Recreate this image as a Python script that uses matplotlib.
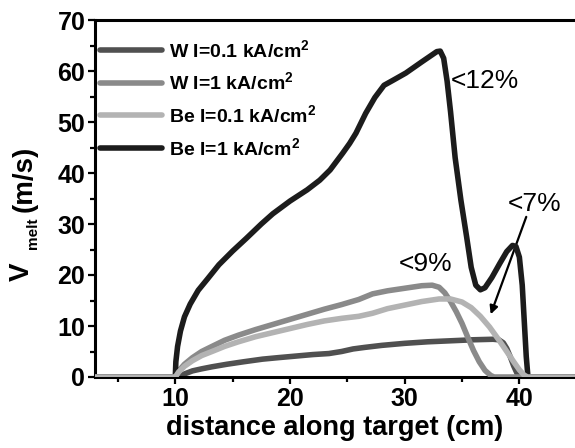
import matplotlib
matplotlib.use("Agg")
import matplotlib.pyplot as plt
from matplotlib.ticker import MultipleLocator

plt.rcParams['font.family'] = ['Liberation Sans', 'DejaVu Sans']
plt.rcParams['mathtext.fontset'] = 'custom'
plt.rcParams['mathtext.rm'] = 'Liberation Sans:bold'
plt.rcParams['mathtext.it'] = 'Liberation Sans:bold'
plt.rcParams['mathtext.bf'] = 'Liberation Sans:bold'

# ---- data ----
labels = ['W I=0.1 kA/cm$^{2}$', 'W I=1 kA/cm$^{2}$',
          'Be I=0.1 kA/cm$^{2}$', 'Be I=1 kA/cm$^{2}$']
colors = ['#505050', '#8a8a8a', '#b3b3b3', '#1c1c1c']

w01_x = [3, 10.3, 10.8, 11.5, 12.3, 13.2, 14.5, 16, 17.6, 19, 20.5, 22, 23.4, 24.5, 25.5, 26.5,
         28, 30, 32, 34, 36, 37.7, 38.2, 38.6, 38.9, 39.2, 39.5, 39.8, 40, 45]
w01_y = [0, 0, 0.6, 1.2, 1.6, 2.0, 2.5, 3.0, 3.5, 3.8, 4.1, 4.4, 4.6, 5.0, 5.5, 5.8,
         6.2, 6.6, 6.9, 7.1, 7.3, 7.4, 7.3, 6.7, 5.6, 4.0, 2.2, 0.7, 0, 0]

w1_x = [3, 10, 10.3, 10.8, 11.5, 12.3, 13.2, 14.3, 15.5, 17, 18.5, 20, 21.5, 23, 24.5, 26,
        27.2, 28.5, 30, 31.5, 32.4, 33, 33.5, 34, 34.5, 35, 35.5, 36, 36.5, 37, 37.5, 37.8, 45]
w1_y = [0, 0, 1.2, 2.5, 3.8, 5.0, 6.0, 7.2, 8.2, 9.3, 10.3, 11.3, 12.3, 13.3, 14.2, 15.2,
        16.3, 16.9, 17.4, 17.9, 18.0, 17.6, 16.5, 14.8, 12.8, 10.5, 7.8, 5.2, 3.0, 1.3, 0.3, 0, 0]

be01_x = [3, 10, 10.3, 10.8, 11.5, 12.3, 13.2, 14.3, 15.5, 17, 18.5, 20, 21.5, 23, 24.5, 26,
          27.2, 28.5, 30, 31.5, 33, 34, 35, 35.8, 36.6, 37.4, 38.2, 38.9, 39.5, 40, 40.4, 40.7, 45]
be01_y = [0, 0, 1.0, 2.1, 3.2, 4.2, 5.0, 6.0, 6.9, 7.9, 8.7, 9.5, 10.3, 11.0, 11.5, 11.9,
          12.5, 13.4, 14.1, 14.8, 15.3, 15.3, 14.7, 13.6, 11.9, 9.8, 7.3, 5.0, 3.0, 1.4, 0.4, 0, 0]

be1_x = [3, 10, 10.05, 10.2, 10.45, 10.8, 11.3, 12, 12.8, 13.8, 15, 16.2, 17.5, 18.5, 20, 21.5,
         22.6, 23.5, 24.6, 25.2, 25.75, 26.6, 27.4, 28.2, 29, 30.1, 31.5, 32.8, 33.1, 33.4,
         33.7, 34, 34.4, 34.9, 35.4, 35.8, 36.2, 36.6, 37, 37.6, 38.3, 38.9, 39.4, 39.7, 40,
         40.25, 40.45, 40.6, 40.75, 45]
be1_y = [0, 0, 3, 6, 9, 11.8, 14.3, 17, 19.2, 22, 24.7, 27.2, 30, 32, 34.5, 36.7,
         38.6, 40.6, 43.9, 45.8, 47.8, 51.7, 54.8, 57.2, 58.2, 59.6, 61.8, 63.8, 63.9, 62.5,
         58, 52, 43, 34.7, 27.5, 21.5, 18, 17.1, 17.5, 19.5, 22.3, 24.6, 25.8, 25.6, 23.5,
         18, 10, 4, 0, 0]

xs = [w01_x, w1_x, be01_x, be1_x]
ys = [w01_y, w1_y, be01_y, be1_y]

# ---- figure ----
fig = plt.figure(figsize=(5.75, 4.48), dpi=100)
ax = fig.add_axes([95/575, 1 - 377/448, 480/575, 357/448])

zorders = [2, 3, 5, 4]
for x, y, c, lab, z in zip(xs, ys, colors, labels, zorders):
    ax.plot(x, y, color=c, lw=4, label=lab, zorder=z, solid_capstyle='round',
            solid_joinstyle='round')

ax.set_xlim(3, 44.85)
ax.set_ylim(0, 70)
ax.xaxis.set_major_locator(MultipleLocator(10))
ax.xaxis.set_minor_locator(MultipleLocator(5))
ax.yaxis.set_major_locator(MultipleLocator(10))
ax.yaxis.set_minor_locator(MultipleLocator(5))
ax.set_xticks([10, 20, 30, 40])

for s in ['left', 'bottom', 'top']:
    ax.spines[s].set_linewidth(2.2)
ax.spines['right'].set_visible(False)

ax.tick_params(which='major', direction='out', length=5, width=1.6, labelsize=18, pad=2)
ax.tick_params(which='minor', direction='out', length=3.5, width=1.6)
ax.tick_params(top=False, right=False, which='both')
for t in ax.get_xticklabels() + ax.get_yticklabels():
    t.set_fontweight('bold')

ax.set_xlabel('distance along target (cm)', fontsize=19.5, fontweight='bold', labelpad=3)

# y label built from pieces (V, subscript "melt", "(m/s)")
fig.text(22/575, 1 - 271.5/448, 'V', rotation=90, fontsize=20, fontweight='bold',
         ha='center', va='center')
fig.text(33/575, 1 - 233.5/448, 'melt', rotation=90, fontsize=11, fontweight='bold',
         ha='center', va='center')
fig.text(25/575, 1 - 178.5/448, '(m/s)', rotation=90, fontsize=20, fontweight='bold',
         ha='center', va='center')

leg = ax.legend(loc='upper left', bbox_to_anchor=(100/575, 1 - 39/448),
                bbox_transform=fig.transFigure, frameon=False, fontsize=14,
                handlelength=3.2, handletextpad=0.35, labelspacing=0.55,
                borderpad=0, borderaxespad=0)
for t in leg.get_texts():
    t.set_fontweight('bold')

ax.text(37.0, 58.0, '<12%', fontsize=19, ha='center', va='center')
ax.text(31.8, 22.1, '<9%', fontsize=19, ha='center', va='center')
ax.text(41.35, 34.0, '<7%', fontsize=19, ha='center', va='center')
ax.annotate('', xy=(37.5, 12.3), xytext=(40.6, 31.4),
            arrowprops=dict(arrowstyle='-|>', color='black', lw=1.6,
                            mutation_scale=12, shrinkA=0, shrinkB=0))

fig.savefig('out.png', dpi=100)
